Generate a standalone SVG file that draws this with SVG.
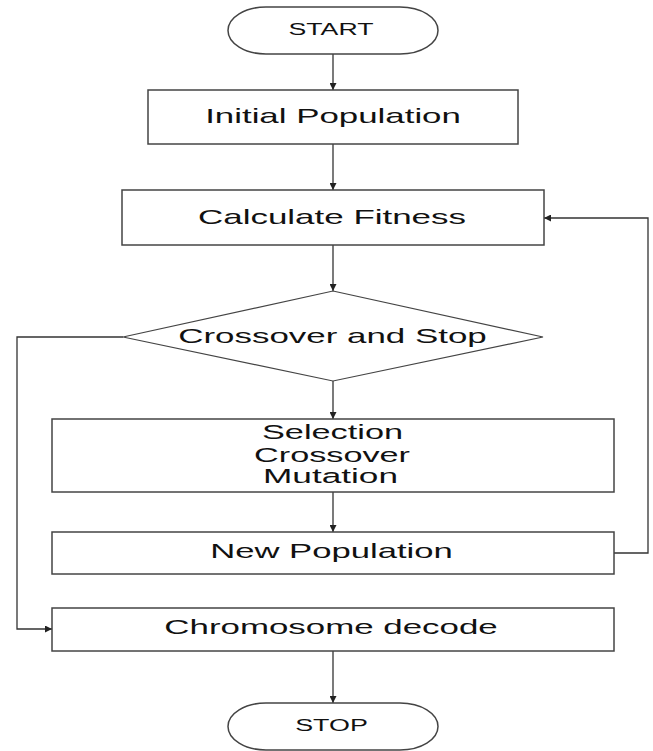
<svg xmlns="http://www.w3.org/2000/svg" width="653" height="751" viewBox="0 0 653 751">
<style>
.shape{fill:#fff;stroke:#444;stroke-width:1.5}
.conn{fill:none;stroke:#333;stroke-width:1.3}
.t{font-family:"Liberation Sans",Arial,sans-serif;fill:#111;text-anchor:middle}
.big{font-size:21px}
.mid{font-size:20.5px}
.sm{font-size:16px}
</style>
<defs>
<marker id="ah" viewBox="0 0 10 10" refX="10" refY="5" markerWidth="7" markerHeight="7" markerUnits="userSpaceOnUse" orient="auto">
<path d="M0,0 L10,5 L0,10 z" fill="#222"/>
</marker>
</defs>
<rect width="653" height="751" fill="#fff"/>
<g id="connectors">
<line class="conn" x1="333" y1="54" x2="333" y2="90" marker-end="url(#ah)"/>
<line class="conn" x1="333" y1="144" x2="333" y2="190" marker-end="url(#ah)"/>
<line class="conn" x1="333" y1="245" x2="333" y2="291" marker-end="url(#ah)"/>
<line class="conn" x1="333" y1="381" x2="333" y2="419" marker-end="url(#ah)"/>
<line class="conn" x1="333" y1="492" x2="333" y2="532" marker-end="url(#ah)"/>
<polyline class="conn" points="614,553 648,553 648,218 544,218" marker-end="url(#ah)"/>
<polyline class="conn" points="123,337 17,337 17,629 52,629" marker-end="url(#ah)"/>
<line class="conn" x1="333" y1="651" x2="333" y2="703" marker-end="url(#ah)"/>
</g>
<g id="start">
<rect class="shape" x="228" y="7" width="210" height="47" rx="38" ry="23.5"/>
<text class="t sm" transform="translate(331,35) scale(1.65,1)" textLength="51.5" lengthAdjust="spacingAndGlyphs">START</text>
</g>
<g id="initial-population">
<rect class="shape" x="148" y="90" width="370" height="54"/>
<text class="t big" transform="translate(333,123) scale(1.65,1)" textLength="155" lengthAdjust="spacingAndGlyphs">Initial Population</text>
</g>
<g id="calculate-fitness">
<rect class="shape" x="122" y="190" width="422" height="55"/>
<text class="t big" transform="translate(332,224) scale(1.65,1)" textLength="162.4" lengthAdjust="spacingAndGlyphs">Calculate Fitness</text>
</g>
<g id="crossover-stop">
<polygon class="shape" points="333,291 543,337 333,381 123,337" style="stroke-width:1.2"/>
<text class="t big" transform="translate(332.5,343) scale(1.65,1)" textLength="187" lengthAdjust="spacingAndGlyphs">Crossover and Stop</text>
</g>
<g id="selection">
<rect class="shape" x="52" y="419" width="562" height="73"/>
<text class="t mid" transform="translate(332.5,439) scale(1.65,1)" textLength="85.5" lengthAdjust="spacingAndGlyphs">Selection</text>
<text class="t mid" transform="translate(332,462) scale(1.65,1)" textLength="94.5" lengthAdjust="spacingAndGlyphs">Crossover</text>
<text class="t mid" transform="translate(330.5,483) scale(1.65,1)" textLength="81.8" lengthAdjust="spacingAndGlyphs">Mutation</text>
</g>
<g id="new-population">
<rect class="shape" x="52" y="532" width="562" height="42"/>
<text class="t big" transform="translate(331.5,558) scale(1.65,1)" textLength="147" lengthAdjust="spacingAndGlyphs">New Population</text>
</g>
<g id="chromosome-decode">
<rect class="shape" x="52" y="608" width="562" height="43"/>
<text class="t big" transform="translate(331,634) scale(1.65,1)" textLength="202" lengthAdjust="spacingAndGlyphs">Chromosome decode</text>
</g>
<g id="stop">
<rect class="shape" x="228" y="703" width="210" height="47" rx="38" ry="23.5"/>
<text class="t sm" transform="translate(331.5,731) scale(1.65,1)" textLength="44" lengthAdjust="spacingAndGlyphs">STOP</text>
</g>
</svg>
